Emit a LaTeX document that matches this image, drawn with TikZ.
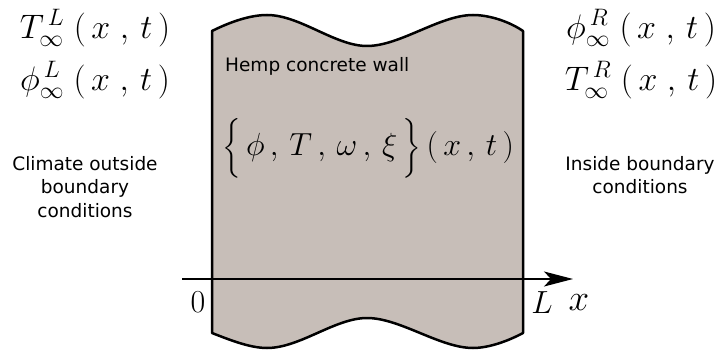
\RequirePackage{fix-cm}
\documentclass[tikz,border=0pt]{standalone}
\usepackage{exscale}
\usepackage{fontspec}
\newfontfamily\dejavu{DejaVu Sans}
\usetikzlibrary{arrows.meta}
\definecolor{wallfill}{RGB}{199,190,184}
\tikzset{
  mathbig/.style={font=\fontsize{34}{40}\selectfont, inner sep=0pt},
  mathmid/.style={font=\fontsize{32}{38}\selectfont, inner sep=0pt},
  mathaxis/.style={font=\fontsize{32}{36}\selectfont, inner sep=0pt},
  mathx/.style={font=\fontsize{37}{40}\selectfont, inner sep=0pt},
  labeltext/.style={font=\dejavu\fontsize{18.5}{23.5}\selectfont, inner sep=0pt, align=center},
  wall/.style={draw=black, line width=2.5pt, fill=wallfill, line join=round},
  axis/.style={line width=1.5pt, -{Stealth[length=29pt,width=15pt,inset=7pt]}}
}
\begin{document}
\begin{tikzpicture}[x=1pt,y=-1pt]
\useasboundingbox (0,0) rectangle (720,358);
% wall
\draw[wall] (212,31) .. controls (230,22) and (250,15) .. (267,15)
  .. controls (300,15) and (335,46) .. (367,46)
  .. controls (400,46) and (440,15) .. (473,15)
  .. controls (490,15) and (510,22) .. (523,31)
  -- (523,333)
  .. controls (510,340) and (490,348) .. (473,348)
  .. controls (440,348) and (400,318) .. (367,318)
  .. controls (335,318) and (300,348) .. (267,348)
  .. controls (250,348) and (230,340) .. (212,333)
  -- cycle;
% axis
\coordinate (axstart) at (182,279);
\coordinate (axend) at (573,279);
\draw[axis] (axstart) -- (axend);
\node[mathaxis] (zero) at (198,302) {$0$};
\node[mathaxis] (ell) at (542,303) {$L$};
\node[mathx] (xlab) at (579,303) {$x$};
% texts
\node[labeltext, anchor=west] (hemp) at (225,66) {Hemp concrete wall};
\node[labeltext] (climate) at (85,187) {Climate outside\\boundary\\conditions};
\node[labeltext] (inside) at (640,175) {Inside boundary\\conditions};
% math
\node[mathbig] (TL) at (95,28) {$T^{\,L}_{\infty}\;(\,x\;,\,t\,)$};
\node[mathbig] (phiL) at (95,80) {$\phi^{\,L}_{\infty}\;(\,x\;,\,t\,)$};
\node[mathbig] (phiR) at (641,28) {$\phi^{\,R}_{\infty}\;(\,x\;,\,t\,)$};
\node[mathbig] (TR) at (641,80) {$T^{\,R}_{\infty}\;(\,x\;,\,t\,)$};
\node[mathmid] (fields) at (368,148) {$\Bigl\{\,\phi\,,\,T\,,\,\omega\,,\,\xi\,\Bigr\}\,(\,x\,,\,t\,)$};
\end{tikzpicture}
\end{document}
